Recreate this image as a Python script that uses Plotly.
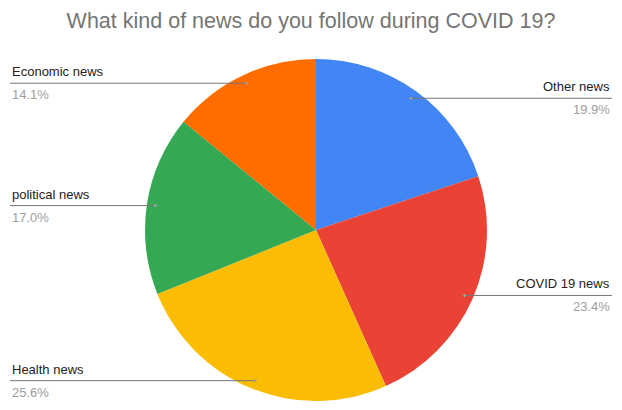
import math
import plotly.graph_objects as go

# Survey answers, in drawing order (clockwise from 12 o'clock)
categories = ["Other news", "COVID 19 news", "Health news", "political news", "Economic news"]
shares = [19.9, 23.4, 25.6, 17.0, 14.1]
colors = ["#4285F4", "#EA4335", "#FBBC04", "#34A853", "#FF6D01"]
label_side = ["right", "right", "left", "left", "left"]

W, H = 622, 410
cx, cy, r = 316, 230, 171  # pie centre and radius in pixels

fig = go.Figure(go.Pie(
    labels=categories,
    values=shares,
    sort=False,
    direction="clockwise",
    rotation=0,
    marker=dict(colors=colors, line=dict(width=0)),
    textinfo="none",
    hoverinfo="label+percent",
    showlegend=False,
    domain=dict(x=[(cx - r) / W, (cx + r) / W], y=[1 - (cy + r) / H, 1 - (cy - r) / H]),
))

def px(x):
    return x / W

def py(y):
    return 1 - y / H

shapes, annotations = [], []
total = sum(shares)
cum = 0.0
for name, v, side in zip(categories, shares, label_side):
    theta = 2 * math.pi * (cum + v / 2) / total
    cum += v
    ax = cx + 0.95 * r * math.sin(theta)
    ay = cy - 0.95 * r * math.cos(theta)
    x_end = 612 if side == "right" else 10
    shapes.append(dict(type="line", xref="paper", yref="paper",
                       x0=px(ax), y0=py(ay), x1=px(x_end), y1=py(ay),
                       line=dict(color="#757575", width=1)))
    shapes.append(dict(type="circle", xref="paper", yref="paper",
                       x0=px(ax - 1.5), x1=px(ax + 1.5), y0=py(ay - 1.5), y1=py(ay + 1.5),
                       fillcolor="#9e9e9e", line=dict(width=0)))
    xanchor = "right" if side == "right" else "left"
    annotations.append(dict(xref="paper", yref="paper", x=px(x_end), y=py(ay - 2),
                            text=name, showarrow=False, xanchor=xanchor, yanchor="bottom",
                            font=dict(family="Liberation Sans, Arial, sans-serif", size=13, color="#222222")))
    annotations.append(dict(xref="paper", yref="paper", x=px(x_end), y=py(ay + 2),
                            text=f"{v:.1f}%", showarrow=False, xanchor=xanchor, yanchor="top",
                            font=dict(family="Liberation Sans, Arial, sans-serif", size=13, color="#9e9e9e")))

fig.update_layout(
    width=W, height=H,
    margin=dict(l=0, r=0, t=0, b=0),
    paper_bgcolor="white",
    plot_bgcolor="white",
    title=dict(text="What kind of news do you follow during COVID 19?",
               x=0.5, xanchor="center", y=py(20), yanchor="middle",
               font=dict(family="Liberation Sans, Arial, sans-serif", size=21.5, color="#757575")),
    shapes=shapes,
    annotations=annotations,
)

fig.write_html("out.html")
